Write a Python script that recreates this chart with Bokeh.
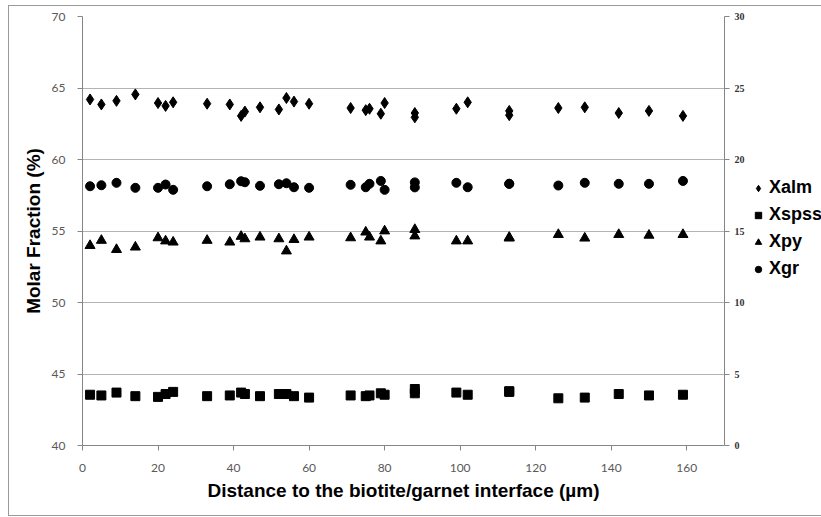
from bokeh.plotting import figure
from bokeh.layouts import row
from bokeh.models import Range1d, LinearAxis, Legend, LegendItem, FixedTicker
from bokeh.embed import file_html
from bokeh.resources import INLINE

# ---- data ----
distance = [2, 5, 9, 14, 20, 22, 24, 33, 39, 42, 43, 47, 52, 54, 56, 60,
            71, 75, 76, 79, 80, 88, 88, 99, 102, 113, 113, 126, 133, 142, 150, 159]

# Xalm on the left axis (%)
xalm = [64.2, 63.85, 64.1, 64.55, 63.95, 63.75, 64.0, 63.9, 63.85, 63.05, 63.35, 63.65, 63.5, 64.3, 64.05, 63.9,
        63.6, 63.45, 63.55, 63.2, 63.95, 63.25, 62.95, 63.55, 64.0, 63.4, 63.1, 63.6, 63.65, 63.25, 63.4, 63.05]

# Xspss, Xpy, Xgr on the right axis (%)
xspss = [3.55, 3.5, 3.7, 3.45, 3.4, 3.6, 3.75, 3.45, 3.5, 3.7, 3.6, 3.45, 3.6, 3.6, 3.45, 3.35,
         3.5, 3.45, 3.5, 3.65, 3.55, 3.95, 3.65, 3.7, 3.55, 3.8, 3.75, 3.3, 3.35, 3.6, 3.5, 3.55]
xpy = [13.98, 14.34, 13.7, 13.87, 14.52, 14.3, 14.22, 14.34, 14.22, 14.62, 14.45, 14.57, 14.45, 13.6, 14.4, 14.57,
       14.52, 14.92, 14.57, 14.3, 15.0, 15.1, 14.65, 14.3, 14.3, 14.55, 14.5, 14.75, 14.5, 14.75, 14.7, 14.75]
xgr = [18.13, 18.2, 18.37, 18.02, 18.02, 18.25, 17.88, 18.13, 18.27, 18.48, 18.41, 18.16, 18.27, 18.34, 18.06, 18.02,
       18.23, 18.06, 18.3, 18.5, 17.88, 18.4, 18.05, 18.37, 18.06, 18.3, 18.3, 18.18, 18.37, 18.3, 18.3, 18.5]

series_names = ["Xalm", "Xspss", "Xpy", "Xgr"]
x_ticks = [0, 20, 40, 60, 80, 100, 120, 140, 160]
left_ticks = [40, 45, 50, 55, 60, 65, 70]
right_ticks = [0, 5, 10, 15, 20, 25, 30]

border = "1px solid #9a9a9a"

# ---- main figure ----
p = figure(width=740, height=511, output_backend="svg", toolbar_location=None,
           x_range=Range1d(0, 170), y_range=Range1d(40, 70),
           min_border_left=73, min_border_right=25, min_border_top=10, min_border_bottom=72,
           background_fill_color="white", border_fill_color="white")
p.margin = (5, 0, 0, 8)
p.styles = {"border-left": border, "border-top": border, "border-bottom": border}
p.outline_line_color = None
p.extra_y_ranges = {"right": Range1d(0, 30)}

axis_col = "#868686"
tick_font = "Lato"
tick_col = "#595959"

xa = p.xaxis[0]
xa.ticker = FixedTicker(ticks=x_ticks)
xa.axis_label = "Distance to the biotite/garnet interface (\u00b5m)"
ya = p.yaxis[0]
ya.ticker = FixedTicker(ticks=left_ticks)
ya.axis_label = "Molar Fraction (%)"

for ax in (xa, ya):
    ax.axis_line_color = axis_col
    ax.major_tick_line_color = axis_col
    ax.major_tick_out = 5
    ax.major_tick_in = 0
    ax.minor_tick_line_color = None
    ax.major_label_text_font = tick_font
    ax.major_label_text_font_size = "12px"
    ax.major_label_text_color = tick_col
    ax.axis_label_text_font = "Liberation Sans"
    ax.axis_label_text_font_style = "bold"
    ax.axis_label_text_font_size = "19px"
    ax.axis_label_text_color = "black"
xa.major_label_standoff = 13
xa.axis_label_standoff = 5
ya.major_label_standoff = 12
ya.axis_label_standoff = 5

ra = LinearAxis(y_range_name="right", ticker=FixedTicker(ticks=right_ticks))
ra.axis_line_color = axis_col
ra.major_tick_line_color = axis_col
ra.major_tick_out = 5
ra.major_tick_in = 0
ra.minor_tick_line_color = None
ra.major_label_text_font = "Liberation Serif"
ra.major_label_text_font_style = "bold"
ra.major_label_text_font_size = "10px"
ra.major_label_text_color = "#333333"
ra.major_label_standoff = 5
p.add_layout(ra, "right")

p.xgrid.grid_line_color = None
p.ygrid.ticker = FixedTicker(ticks=left_ticks)
p.ygrid.grid_line_color = "#b3b3b3"
p.ygrid.grid_line_width = 1

# ---- series ----
styles_ = [dict(marker="diamond", size=11), dict(marker="square", size=9),
           dict(marker="triangle", size=10), dict(marker="circle", size=9)]
p.scatter(distance, xalm, color="black", **styles_[0])
p.scatter(distance, xspss, color="black", y_range_name="right", **styles_[1])
p.scatter(distance, xpy, color="black", y_range_name="right", **styles_[2])
p.scatter(distance, xgr, color="black", y_range_name="right", **styles_[3])

# ---- legend panel (same series and marker styles, plotted out of view) ----
pl = figure(width=73, height=511, output_backend="svg", toolbar_location=None,
            x_axis_type=None, y_axis_type=None, x_range=Range1d(-20, -10), y_range=Range1d(0, 1),
            min_border=0, background_fill_color="white", border_fill_color="white")
pl.margin = (5, 0, 0, 0)
pl.styles = {"border-top": border, "border-bottom": border}
pl.outline_line_color = None
items = []
for name, vals, st in zip(series_names, [xalm, xspss, xpy, xgr], styles_):
    r = pl.scatter(distance, vals, color="black", **st)
    items.append(LegendItem(label=name, renderers=[r]))

legend = Legend(items=items, location=(2, 166), border_line_color=None, background_fill_alpha=0,
                padding=0, margin=0, spacing=6, glyph_height=16, glyph_width=16,
                label_height=16, label_standoff=3,
                label_text_font="Liberation Sans", label_text_font_style="bold",
                label_text_font_size="18px", label_text_color="black")
pl.add_layout(legend, "center")

layout = row(p, pl, spacing=0)
open("out.html", "w").write(file_html(layout, INLINE))
